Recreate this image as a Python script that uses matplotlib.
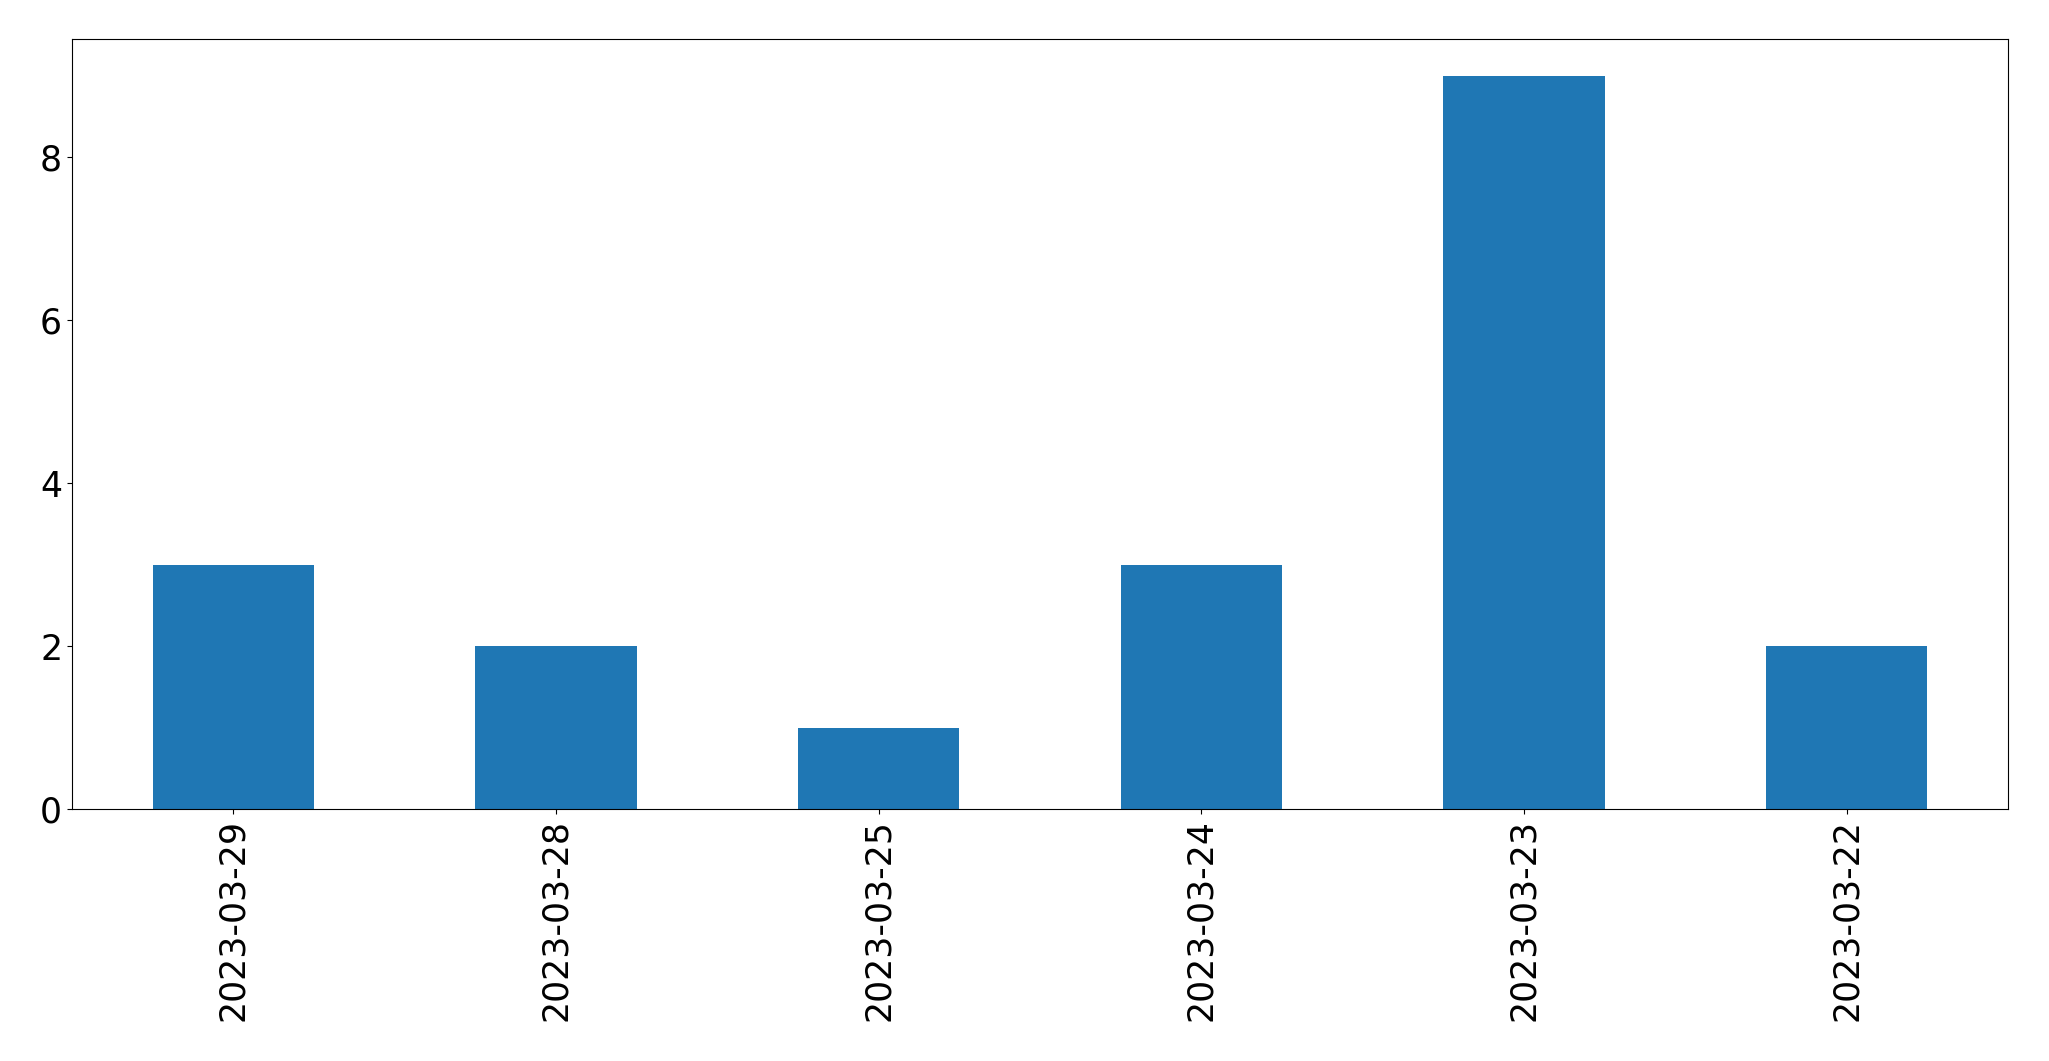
import matplotlib
matplotlib.use("Agg")
import matplotlib.pyplot as plt
import numpy as np

dates = ["2023-03-29", "2023-03-28", "2023-03-25", "2023-03-24", "2023-03-23", "2023-03-22"]
counts = [3, 2, 1, 3, 9, 2]

fig = plt.figure(figsize=(20.49, 10.61), dpi=100)
ax = fig.add_axes([0.0351, 0.2375, 0.9449, 0.7257])
x = np.arange(len(dates))
ax.bar(x, counts, width=0.5, color="#1f77b4")
ax.set_xlim(-0.5, len(dates) - 0.5)
ax.set_ylim(0, max(counts) * 1.05)
ax.set_xticks(x)
ax.set_xticklabels(dates, rotation=90)
ax.tick_params(labelsize=25)
fig.savefig("out.png", dpi=100)
